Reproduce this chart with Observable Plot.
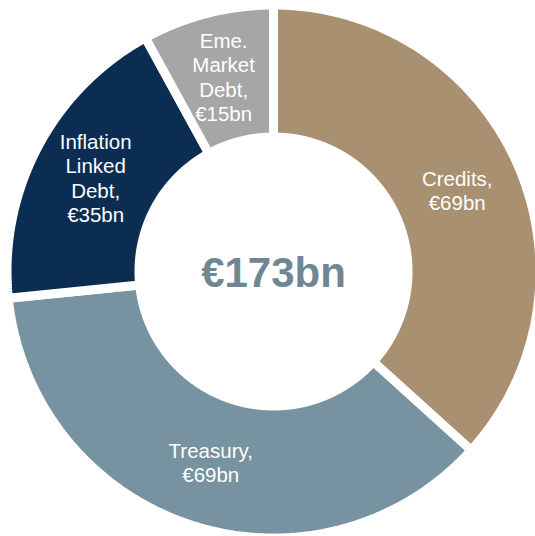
<!DOCTYPE html>
<html><head><meta charset="utf-8">
<script src="https://cdn.jsdelivr.net/npm/d3@7"></script>
<script src="https://cdn.jsdelivr.net/npm/@observablehq/plot@0.6"></script>
<style>html,body{margin:0;padding:0;background:#fff;overflow:hidden}</style>
</head><body><div id="chart"></div>
<script>
// Data
const categories = ["Credits", "Treasury", "Inflation\nLinked\nDebt", "Eme.\nMarket\nDebt"];
const values = [69, 69, 35, 15];
const colors = ["#A89070", "#7792A0", "#0B2D51", "#A6A6A6"];
const total = 173;

// Geometry
const W = 535, H = 536;
const cx = 273, cy = 271;
const R = 266.5, r0 = 134.5, rLabel = 201;

const slices = d3.pie().sort(null).value(d => d.value)(
  categories.map((c, i) => ({name: c, value: values[i]}))
);

const pts = [];
for (const s of slices) {
  const n = Math.max(2, Math.ceil((s.endAngle - s.startAngle) / (Math.PI / 360)));
  for (let k = 0; k <= n; k++) {
    const a = s.startAngle + (s.endAngle - s.startAngle) * k / n;
    pts.push({name: s.data.name, x: R * Math.sin(a), y: R * Math.cos(a)});
  }
  for (let k = n; k >= 0; k--) {
    const a = s.startAngle + (s.endAngle - s.startAngle) * k / n;
    pts.push({name: s.data.name, x: r0 * Math.sin(a), y: r0 * Math.cos(a)});
  }
}

const labels = slices.map(s => {
  const m = (s.startAngle + s.endAngle) / 2;
  return {x: rLabel * Math.sin(m), y: rLabel * Math.cos(m), text: `${s.data.name},\n€${s.data.value}bn`};
});

const chart = Plot.plot({
  width: W, height: H, margin: 0,
  style: {fontFamily: "'Liberation Sans', Arial, sans-serif", background: "#fff"},
  x: {domain: [-cx, W - cx], axis: null},
  y: {domain: [-(H - cy), cy], axis: null},
  color: {domain: categories, range: colors},
  marks: [
    Plot.line(pts, {x: "x", y: "y", z: "name", fill: "name", stroke: "white", strokeWidth: 9, curve: "linear-closed", strokeLinejoin: "miter"}),
    Plot.text(labels, {x: "x", y: "y", text: "text", fill: "white", fontSize: 20.5, lineHeight: 1.19}),
    Plot.text([{x: 0, y: 0, t: `€${total}bn`}], {x: "x", y: "y", text: "t", fill: "#6F8793", fontSize: 42, fontWeight: "bold", dy: 2})
  ]
});
document.getElementById("chart").appendChild(chart);
</script>
</body></html>
